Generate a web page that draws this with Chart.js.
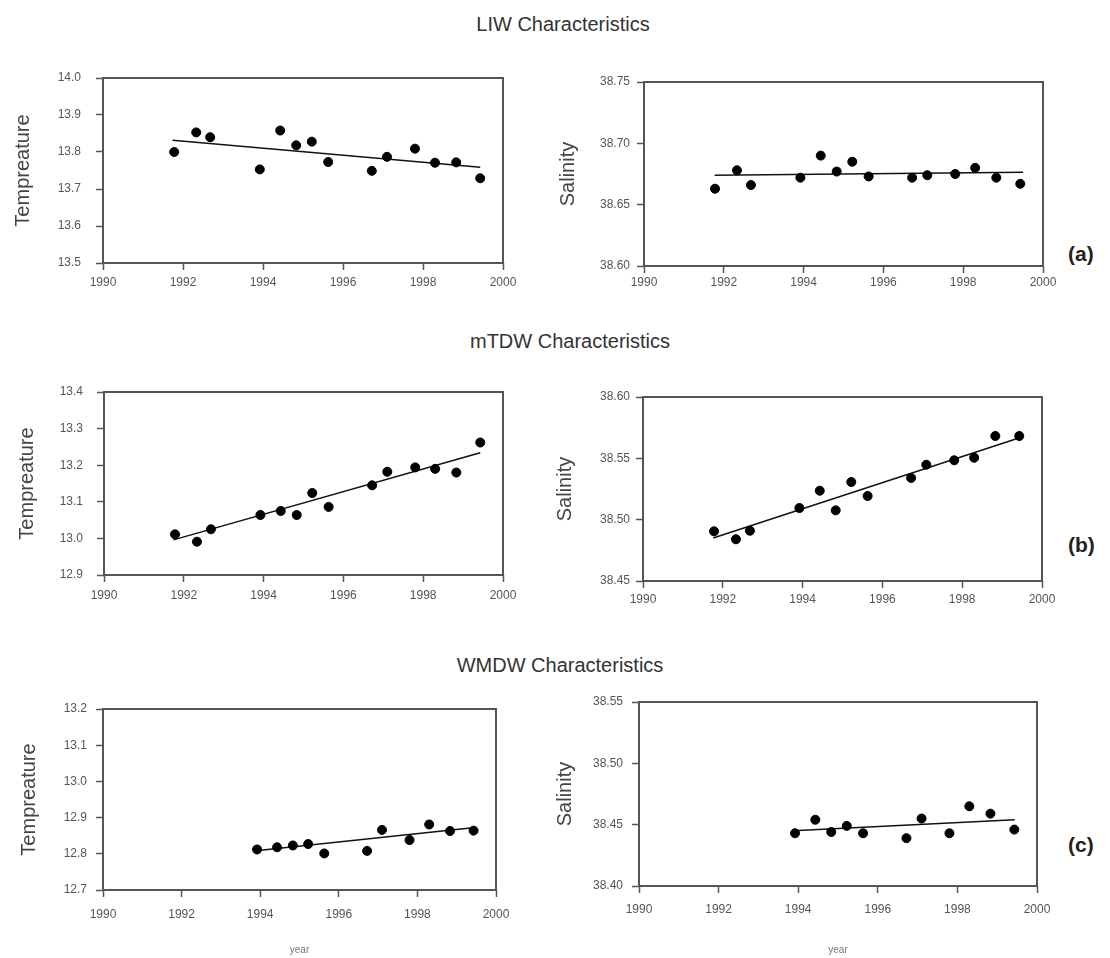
<!DOCTYPE html>
<html>
<head>
<meta charset="utf-8">
<script src="https://cdn.jsdelivr.net/npm/chart.js@4.4.0/dist/chart.umd.min.js"></script>
<style>
  body { margin: 0; background: #fff; font-family: "Liberation Sans", Arial, sans-serif; }
  #page { position: relative; width: 1110px; height: 958px; overflow: hidden; }
  canvas { position: absolute; }
  .head { position: absolute; transform: translate(-50%, -50%); font-size: 20px; color: #333; white-space: nowrap; }
  .tag { position: absolute; transform: translateY(-50%); font-size: 21px; font-weight: bold; color: #222; }
</style>
</head>
<body>
<div id="page">
  <div class="head" style="left:563px; top:24px;">LIW Characteristics</div>
  <div class="head" style="left:570px; top:341px;">mTDW Characteristics</div>
  <div class="head" style="left:560px; top:665px;">WMDW Characteristics</div>
  <div class="tag" style="left:1068px; top:254px;">(a)</div>
  <div class="tag" style="left:1068px; top:545px;">(b)</div>
  <div class="tag" style="left:1068px; top:845px;">(c)</div>
  <canvas id="c1"></canvas>
  <canvas id="c2"></canvas>
  <canvas id="c3"></canvas>
  <canvas id="c4"></canvas>
  <canvas id="c5"></canvas>
  <canvas id="c6"></canvas>
</div>
<script>
// sampling times (decimal year)
const years = [1991.78, 1992.33, 1992.68, 1993.92, 1994.43, 1994.83, 1995.22, 1995.63, 1996.72, 1997.1, 1997.8, 1998.3, 1998.83, 1999.43];
const wmdwYears = [1993.92, 1994.43, 1994.83, 1995.22, 1995.63, 1996.72, 1997.1, 1997.8, 1998.3, 1998.83, 1999.43];

// LIW
const liwTemp = [13.800, 13.853, 13.840, 13.753, 13.858, 13.818, 13.828, 13.773, 13.749, 13.787, 13.809, 13.771, 13.772, 13.729];
const liwSal = [38.663, 38.678, 38.666, 38.672, 38.690, 38.677, 38.685, 38.673, 38.672, 38.674, 38.675, 38.680, 38.672, 38.667];
// mTDW
const mtdwTemp = [13.011, 12.991, 13.025, 13.064, 13.075, 13.064, 13.124, 13.086, 13.145, 13.182, 13.194, 13.190, 13.180, 13.262];
const mtdwSal = [38.4905, 38.484, 38.491, 38.5095, 38.5236, 38.5076, 38.5307, 38.5193, 38.534, 38.5448, 38.5484, 38.5505, 38.5682, 38.5682];
// WMDW
const wmdwTemp = [12.812, 12.818, 12.823, 12.827, 12.801, 12.808, 12.866, 12.838, 12.881, 12.863, 12.864];
const wmdwSal = [38.443, 38.454, 38.444, 38.449, 38.443, 38.439, 38.455, 38.443, 38.465, 38.459, 38.446];

// fitted trend lines, end points
const liwTempTrendX = [1991.74, 1999.43], liwTempTrendY = [13.832, 13.759];
const liwSalTrendX = [1991.77, 1999.5], liwSalTrendY = [38.674, 38.6765];
const mtdwTempTrendX = [1991.74, 1999.43], mtdwTempTrendY = [12.996, 13.234];
const mtdwSalTrendX = [1991.76, 1999.46], mtdwSalTrendY = [38.485, 38.567];
const wmdwTempTrendX = [1993.83, 1999.41], wmdwTempTrendY = [12.808, 12.872];
const wmdwSalTrendX = [1993.87, 1999.44], wmdwSalTrendY = [38.445, 38.454];

// axis ranges / tick labels
const yearTicks = [1990, 1992, 1994, 1996, 1998, 2000];
const liwTempTicks = [13.5, 13.6, 13.7, 13.8, 13.9, 14.0];
const liwSalTicks = [38.60, 38.65, 38.70, 38.75];
const mtdwTempTicks = [12.9, 13.0, 13.1, 13.2, 13.3, 13.4];
const mtdwSalTicks = [38.45, 38.50, 38.55, 38.60];
const wmdwTempTicks = [12.7, 12.8, 12.9, 13.0, 13.1, 13.2];
const wmdwSalTicks = [38.40, 38.45, 38.50, 38.55];

const FONT = '"Liberation Sans", Arial, sans-serif';
const AXIS = '#555';

const framePlugin = {
  id: 'frame',
  afterDraw(chart) {
    const a = chart.chartArea, ctx = chart.ctx;
    ctx.save();
    ctx.strokeStyle = AXIS;
    ctx.lineWidth = 2;
    ctx.strokeRect(a.left, a.top, a.right - a.left, a.bottom - a.top);
    ctx.restore();
  }
};

function pts(xs, ys) { return xs.map((x, i) => ({ x: x, y: ys[i] })); }

// box: canvas rect; frame: plot area rect (page px)
function panel(id, box, frame, opt) {
  const cv = document.getElementById(id);
  cv.width = box.w; cv.height = box.h;
  cv.style.left = box.x + 'px'; cv.style.top = box.y + 'px';
  const yw = frame.l - box.x;
  const xh = box.y + box.h - frame.b;
  new Chart(cv, {
    type: 'scatter',
    data: {
      datasets: [{
        data: pts(opt.xs, opt.ys),
        backgroundColor: '#000', borderColor: '#000',
        pointRadius: 4.5, pointHoverRadius: 4.5
      }, {
        type: 'line',
        data: pts(opt.tx, opt.ty),
        borderColor: '#111', borderWidth: 1.5,
        pointRadius: 0, fill: false, tension: 0
      }]
    },
    options: {
      responsive: false,
      animation: false,
      events: [],
      layout: { padding: { top: frame.t - box.y, right: box.x + box.w - frame.r, left: 0, bottom: 0 } },
      plugins: { legend: { display: false }, tooltip: { enabled: false } },
      scales: {
        x: {
          type: 'linear', min: yearTicks[0], max: yearTicks[yearTicks.length - 1],
          afterFit: s => { s.height = xh; },
          afterBuildTicks: s => { s.ticks = yearTicks.map(v => ({ value: v })); },
          border: { display: false },
          grid: { drawOnChartArea: false, drawTicks: true, tickLength: 7, tickColor: AXIS, tickWidth: 1.5 },
          ticks: { padding: opt.xPad, color: '#555', font: { family: FONT, size: 12 }, callback: v => String(v) },
          title: opt.xTitle ? { display: true, text: opt.xTitle, color: '#777', font: { family: FONT, size: 10 }, padding: { top: 0, bottom: 2 } } : { display: false }
        },
        y: {
          type: 'linear', min: opt.yt[0], max: opt.yt[opt.yt.length - 1],
          afterFit: s => { s.width = yw; },
          afterBuildTicks: s => { s.ticks = opt.yt.map(v => ({ value: v })); },
          border: { display: false },
          grid: { drawOnChartArea: false, drawTicks: true, tickLength: 7, tickColor: AXIS, tickWidth: 1.5 },
          ticks: { padding: opt.yPad, color: '#555', font: { family: FONT, size: 12 }, callback: v => v.toFixed(opt.dec) },
          title: { display: true, text: opt.yTitle, color: '#444', font: { family: FONT, size: 20 }, padding: { top: opt.titleOff, bottom: 0 } }
        }
      }
    },
    plugins: [framePlugin]
  });
}

// (a) LIW
panel('c1', { x: 0, y: 50, w: 540, h: 250 }, { l: 103, t: 78, r: 503, b: 263 },
  { xs: years, ys: liwTemp, tx: liwTempTrendX, ty: liwTempTrendY, yt: liwTempTicks, dec: 1,
    yTitle: 'Tempreature', titleOff: 11, xPad: 5, yPad: 15 });
panel('c2', { x: 540, y: 50, w: 520, h: 250 }, { l: 644, t: 82, r: 1043, b: 266 },
  { xs: years, ys: liwSal, tx: liwSalTrendX, ty: liwSalTrendY, yt: liwSalTicks, dec: 2,
    yTitle: 'Salinity', titleOff: 16, xPad: 2, yPad: 7 });
// (b) mTDW
panel('c3', { x: 0, y: 362, w: 540, h: 253 }, { l: 104, t: 392, r: 503, b: 575 },
  { xs: years, ys: mtdwTemp, tx: mtdwTempTrendX, ty: mtdwTempTrendY, yt: mtdwTempTicks, dec: 1,
    yTitle: 'Tempreature', titleOff: 15, xPad: 6, yPad: 14 });
panel('c4', { x: 540, y: 362, w: 520, h: 253 }, { l: 643, t: 397, r: 1042, b: 581 },
  { xs: years, ys: mtdwSal, tx: mtdwSalTrendX, ty: mtdwSalTrendY, yt: mtdwSalTicks, dec: 2,
    yTitle: 'Salinity', titleOff: 13, xPad: 4, yPad: 6 });
// (c) WMDW
panel('c5', { x: 0, y: 680, w: 540, h: 278 }, { l: 103, t: 709, r: 496, b: 890 },
  { xs: wmdwYears, ys: wmdwTemp, tx: wmdwTempTrendX, ty: wmdwTempTrendY, yt: wmdwTempTicks, dec: 1,
    yTitle: 'Tempreature', titleOff: 17, xPad: 10, yPad: 9, xTitle: 'year' });
panel('c6', { x: 540, y: 680, w: 520, h: 278 }, { l: 639, t: 702, r: 1037, b: 886 },
  { xs: wmdwYears, ys: wmdwSal, tx: wmdwSalTrendX, ty: wmdwSalTrendY, yt: wmdwSalTicks, dec: 2,
    yTitle: 'Salinity', titleOff: 13, xPad: 9, yPad: 9, xTitle: 'year' });
</script>
</body>
</html>
